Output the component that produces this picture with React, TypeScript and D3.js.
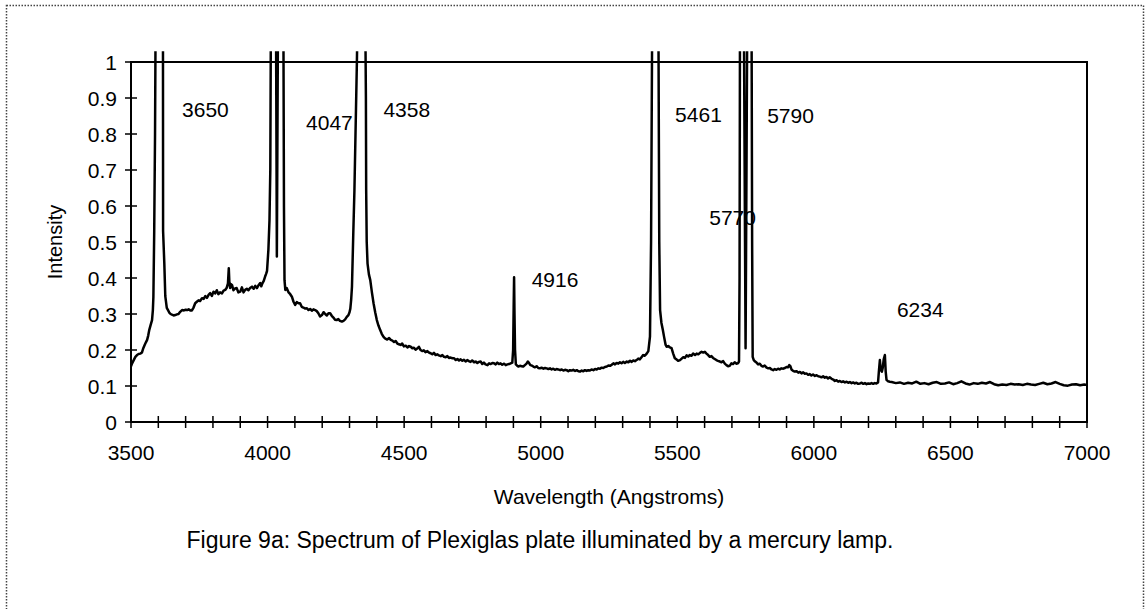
import React from 'react';
import * as d3 from 'd3';

// Spectrum: [wavelength (Å), intensity]
const spectrum: [number, number][] = [
  [3500, 0.155], [3504, 0.163], [3510, 0.172], [3516, 0.181], [3522, 0.186], [3528, 0.189], [3534, 0.19],
  [3540, 0.193], [3545, 0.205], [3550, 0.214], [3555, 0.222], [3559, 0.228], [3563, 0.24], [3567, 0.256],
  [3572, 0.27], [3577, 0.283], [3580, 0.31], [3582, 0.348], [3585, 0.53], [3588, 0.8], [3590, 1.1],
  [3617, 1.1], [3617.5, 0.53], [3622, 0.44], [3625.5, 0.35], [3631, 0.317], [3636, 0.31], [3640, 0.304],
  [3645, 0.3], [3650, 0.298], [3656, 0.296], [3662, 0.297], [3668, 0.299], [3674, 0.3], [3680, 0.306],
  [3687, 0.311], [3694, 0.31], [3700, 0.312], [3706, 0.311], [3711, 0.313], [3717, 0.31], [3723, 0.31],
  [3729, 0.318], [3735, 0.33], [3741, 0.334], [3747, 0.338], [3753, 0.336], [3760, 0.344], [3766, 0.342],
  [3772, 0.35], [3778, 0.345], [3784, 0.353], [3790, 0.358], [3796, 0.35], [3802, 0.362], [3808, 0.357],
  [3814, 0.366], [3820, 0.355], [3826, 0.36], [3833, 0.357], [3839, 0.365], [3845, 0.367], [3850, 0.372],
  [3855, 0.385], [3858, 0.427], [3860, 0.39], [3863, 0.372], [3866, 0.383], [3870, 0.38], [3875, 0.366],
  [3881, 0.371], [3887, 0.372], [3893, 0.36], [3900, 0.362], [3906, 0.374], [3912, 0.36], [3918, 0.367],
  [3924, 0.37], [3930, 0.366], [3936, 0.372], [3943, 0.376], [3949, 0.37], [3955, 0.378], [3961, 0.372],
  [3967, 0.38], [3973, 0.386], [3977, 0.377], [3981, 0.385], [3986, 0.392], [3991, 0.404], [3995, 0.412],
  [3998, 0.42], [4003, 0.478], [4007, 0.56], [4010, 0.7], [4012, 1.1],
  [4031, 1.1], [4034, 0.46], [4038, 1.1],
  [4058, 1.1], [4060, 0.6], [4062, 0.394], [4065, 0.367], [4070, 0.372], [4077, 0.36], [4083, 0.355],
  [4089, 0.348], [4095, 0.334], [4101, 0.325], [4107, 0.333], [4113, 0.33], [4119, 0.33], [4125, 0.32],
  [4131, 0.318], [4138, 0.315], [4144, 0.316], [4150, 0.311], [4156, 0.314], [4162, 0.309], [4168, 0.313],
  [4174, 0.311], [4180, 0.308], [4186, 0.302], [4192, 0.293], [4199, 0.297], [4205, 0.305], [4211, 0.3],
  [4217, 0.296], [4223, 0.302], [4229, 0.302], [4235, 0.295], [4241, 0.29], [4247, 0.284], [4253, 0.283],
  [4259, 0.286], [4265, 0.281], [4272, 0.279], [4278, 0.281], [4284, 0.285], [4290, 0.292], [4296, 0.297],
  [4300, 0.305], [4303, 0.315], [4306, 0.339], [4309, 0.376], [4314, 0.53], [4318, 0.644], [4327, 1.0],
  [4329, 1.1],
  [4358, 1.1], [4360, 0.9], [4361, 0.644], [4363, 0.5], [4366, 0.44], [4371, 0.41], [4376, 0.394],
  [4382, 0.36], [4388, 0.33], [4394, 0.305], [4400, 0.283], [4406, 0.268], [4412, 0.256], [4418, 0.245],
  [4424, 0.237], [4430, 0.232], [4438, 0.229], [4445, 0.233], [4451, 0.228], [4457, 0.226], [4463, 0.222],
  [4469, 0.225], [4475, 0.218], [4481, 0.216], [4487, 0.214], [4493, 0.218], [4499, 0.21], [4506, 0.212],
  [4512, 0.207], [4518, 0.211], [4524, 0.209], [4530, 0.205], [4536, 0.206], [4542, 0.201], [4548, 0.204],
  [4554, 0.209], [4560, 0.2], [4566, 0.197], [4572, 0.199], [4578, 0.194], [4585, 0.197], [4591, 0.193],
  [4597, 0.191], [4603, 0.188], [4609, 0.192], [4615, 0.186], [4621, 0.188], [4627, 0.185], [4634, 0.183],
  [4640, 0.186], [4646, 0.181], [4652, 0.18], [4658, 0.183], [4664, 0.178], [4670, 0.179], [4677, 0.177],
  [4683, 0.177], [4689, 0.172], [4695, 0.175], [4701, 0.171], [4707, 0.174], [4713, 0.17], [4719, 0.173],
  [4725, 0.168], [4731, 0.172], [4737, 0.169], [4743, 0.167], [4749, 0.171], [4756, 0.166], [4762, 0.168],
  [4768, 0.164], [4774, 0.167], [4780, 0.168], [4786, 0.161], [4792, 0.165], [4798, 0.16], [4805, 0.158],
  [4811, 0.163], [4817, 0.161], [4823, 0.164], [4829, 0.163], [4835, 0.16], [4841, 0.165], [4847, 0.161],
  [4853, 0.163], [4859, 0.159], [4866, 0.162], [4872, 0.158], [4878, 0.16], [4884, 0.161], [4890, 0.163],
  [4896, 0.165], [4899, 0.2], [4901, 0.32], [4902.5, 0.402], [4904, 0.3], [4906, 0.2], [4909, 0.16],
  [4913, 0.157], [4918, 0.154], [4924, 0.156], [4930, 0.155], [4936, 0.154], [4942, 0.158], [4948, 0.162],
  [4953, 0.168], [4958, 0.163], [4962, 0.158], [4967, 0.157], [4973, 0.154], [4979, 0.152], [4985, 0.155],
  [4991, 0.15], [4997, 0.149], [5003, 0.151], [5010, 0.148], [5016, 0.15], [5022, 0.149], [5028, 0.147],
  [5034, 0.149], [5040, 0.146], [5046, 0.148], [5052, 0.145], [5058, 0.147], [5064, 0.146], [5071, 0.144],
  [5077, 0.146], [5083, 0.143], [5089, 0.145], [5095, 0.144], [5101, 0.141], [5107, 0.144], [5113, 0.143],
  [5119, 0.145], [5126, 0.142], [5132, 0.144], [5138, 0.141], [5144, 0.14], [5150, 0.143], [5156, 0.141],
  [5162, 0.144], [5168, 0.142], [5174, 0.144], [5180, 0.143], [5186, 0.146], [5193, 0.144], [5199, 0.147],
  [5205, 0.146], [5211, 0.149], [5217, 0.148], [5223, 0.151], [5229, 0.15], [5235, 0.153], [5242, 0.154],
  [5248, 0.157], [5254, 0.156], [5260, 0.159], [5266, 0.163], [5272, 0.16], [5278, 0.164], [5284, 0.162],
  [5290, 0.166], [5296, 0.163], [5302, 0.167], [5308, 0.164], [5315, 0.168], [5321, 0.166], [5327, 0.17],
  [5333, 0.167], [5339, 0.171], [5345, 0.169], [5351, 0.172], [5357, 0.176], [5363, 0.174], [5369, 0.18],
  [5375, 0.186], [5381, 0.184], [5388, 0.19], [5394, 0.197], [5400, 0.237], [5404, 0.5], [5408, 1.1],
  [5431, 1.1], [5434, 0.5], [5437, 0.311], [5442, 0.275], [5447, 0.256], [5452, 0.235], [5457, 0.215],
  [5461, 0.209], [5467, 0.211], [5473, 0.207], [5479, 0.205], [5485, 0.19], [5491, 0.177], [5497, 0.174],
  [5503, 0.17], [5510, 0.172], [5516, 0.176], [5522, 0.18], [5528, 0.178], [5534, 0.185], [5540, 0.182],
  [5546, 0.186], [5552, 0.184], [5558, 0.19], [5565, 0.186], [5571, 0.19], [5577, 0.188], [5583, 0.192],
  [5589, 0.195], [5595, 0.193], [5601, 0.195], [5607, 0.19], [5613, 0.186], [5619, 0.181], [5625, 0.183],
  [5631, 0.178], [5637, 0.175], [5643, 0.172], [5649, 0.17], [5656, 0.168], [5662, 0.166], [5668, 0.169],
  [5674, 0.162], [5680, 0.158], [5686, 0.155], [5692, 0.156], [5698, 0.163], [5704, 0.161], [5710, 0.166],
  [5716, 0.162], [5722, 0.163], [5726, 0.168], [5728, 0.4], [5729.5, 1.1],
  [5744, 1.1], [5748, 0.5], [5750, 0.205], [5752, 0.5], [5756, 1.1],
  [5772, 1.1], [5774, 0.5], [5776, 0.181], [5780, 0.172], [5785, 0.168], [5790, 0.165], [5796, 0.16],
  [5802, 0.162], [5808, 0.156], [5814, 0.154], [5820, 0.157], [5827, 0.151], [5833, 0.149], [5839, 0.15],
  [5845, 0.146], [5851, 0.144], [5857, 0.147], [5863, 0.145], [5869, 0.148], [5875, 0.146], [5881, 0.149],
  [5888, 0.148], [5894, 0.15], [5900, 0.153], [5906, 0.152], [5910, 0.158], [5914, 0.155], [5918, 0.146],
  [5924, 0.142], [5930, 0.14], [5937, 0.141], [5943, 0.137], [5949, 0.139], [5955, 0.135], [5961, 0.138],
  [5967, 0.134], [5973, 0.135], [5979, 0.131], [5985, 0.133], [5991, 0.129], [5997, 0.132], [6004, 0.128],
  [6010, 0.13], [6016, 0.127], [6022, 0.126], [6028, 0.124], [6034, 0.127], [6040, 0.123], [6046, 0.125],
  [6052, 0.121], [6058, 0.124], [6065, 0.12], [6071, 0.118], [6077, 0.114], [6083, 0.116], [6089, 0.112],
  [6095, 0.114], [6101, 0.111], [6107, 0.113], [6114, 0.11], [6120, 0.112], [6126, 0.109], [6132, 0.111],
  [6138, 0.108], [6144, 0.11], [6150, 0.107], [6156, 0.109], [6162, 0.106], [6169, 0.107], [6175, 0.109],
  [6181, 0.106], [6187, 0.108], [6193, 0.105], [6199, 0.107], [6205, 0.106], [6211, 0.108], [6217, 0.106],
  [6223, 0.108], [6229, 0.107], [6235, 0.11], [6238, 0.14], [6241.7, 0.172], [6245, 0.145], [6249, 0.14],
  [6252, 0.15], [6256, 0.175], [6260, 0.186], [6263, 0.14], [6266, 0.117], [6272, 0.113], [6278, 0.112],
  [6285, 0.111], [6300, 0.108], [6315, 0.11], [6330, 0.106], [6345, 0.109], [6360, 0.107], [6375, 0.112],
  [6390, 0.106], [6405, 0.108], [6420, 0.105], [6435, 0.109], [6450, 0.111], [6465, 0.106], [6480, 0.107],
  [6495, 0.11], [6510, 0.105], [6525, 0.108], [6540, 0.113], [6555, 0.107], [6570, 0.104], [6585, 0.108],
  [6600, 0.106], [6615, 0.109], [6630, 0.107], [6645, 0.111], [6660, 0.105], [6675, 0.102], [6690, 0.104],
  [6705, 0.103], [6720, 0.106], [6735, 0.104], [6750, 0.105], [6765, 0.103], [6780, 0.106], [6795, 0.104],
  [6810, 0.103], [6825, 0.106], [6840, 0.109], [6855, 0.105], [6870, 0.107], [6885, 0.111], [6900, 0.106],
  [6915, 0.102], [6930, 0.101], [6945, 0.104], [6960, 0.105], [6975, 0.102], [6990, 0.104], [7000, 0.103],
];

const xMinorTicks = [3500, 3600, 3700, 3800, 3900, 4000, 4100, 4200, 4300, 4400, 4500, 4600, 4700, 4800,
  4900, 5000, 5100, 5200, 5300, 5400, 5500, 5600, 5700, 5800, 5900, 6000, 6100, 6200, 6300, 6400, 6500,
  6600, 6700, 6800, 6900, 7000];
const xLabelTicks = [3500, 4000, 4500, 5000, 5500, 6000, 6500, 7000];
const yTicks = [0, 0.1, 0.2, 0.3, 0.4, 0.5, 0.6, 0.7, 0.8, 0.9, 1];

const peakLabelText = ['3650', '4047', '4358', '4916', '5461', '5770', '5790', '6234'];
const peakLabelX = [3687, 4141, 4424, 4967, 5492, 5617, 5829, 6304];
const peakLabelY = [0.848, 0.811, 0.847, 0.376, 0.834, 0.547, 0.83, 0.292];

const xTitle = 'Wavelength (Angstroms)';
const yTitle = 'Intensity';
const caption = 'Figure 9a: Spectrum of Plexiglas plate illuminated by a mercury lamp.';

const W = 1146;
const H = 609;
const left = 131;
const right = 1087;
const top = 62;
const bottom = 422;
const font = "'Liberation Sans', Arial, Helvetica, sans-serif";

export default function App() {
  const x = d3.scaleLinear().domain([3500, 7000]).range([left, right]);
  const y = d3.scaleLinear().domain([0, 1]).range([bottom, top]);
  const line = d3
    .line<[number, number]>()
    .x((d) => x(d[0]))
    .y((d) => y(d[1]));
  const clipTop = y(1.03);

  return (
    <svg
      width={W}
      height={H}
      viewBox={`0 0 ${W} ${H}`}
      style={{ position: 'absolute', left: 0, top: 0, background: '#fff' }}
      fontFamily={font}
    >
      <rect x={0} y={0} width={W} height={H} fill="#fff" />
      <rect
        x={6.5}
        y={5.5}
        width={1137}
        height={800}
        fill="none"
        stroke="#444"
        strokeWidth={1.5}
        strokeDasharray="1.5,1.5"
      />
      <defs>
        <clipPath id="plotClip">
          <rect x={left} y={clipTop} width={right - left} height={bottom - clipTop} />
        </clipPath>
      </defs>

      {/* plot frame */}
      <rect x={left} y={top} width={right - left} height={bottom - top} fill="none" stroke="#000" strokeWidth={2} />

      {/* y ticks */}
      {yTicks.map((t) => (
        <g key={'y' + t}>
          <line x1={left - 6} x2={left + 6} y1={y(t)} y2={y(t)} stroke="#000" strokeWidth={1.5} />
          <text x={left - 14} y={y(t)} dy="0.36em" textAnchor="end" fontSize={21} fill="#000">
            {String(t)}
          </text>
        </g>
      ))}

      {/* x ticks */}
      {xMinorTicks.map((t) => (
        <line key={'xm' + t} x1={x(t)} x2={x(t)} y1={bottom - 6} y2={bottom + 6} stroke="#000" strokeWidth={1.5} />
      ))}
      {xLabelTicks.map((t) => (
        <text key={'xl' + t} x={x(t)} y={bottom + 38} textAnchor="middle" fontSize={21} fill="#000">
          {String(t)}
        </text>
      ))}

      {/* spectrum */}
      <path d={line(spectrum) || ''} fill="none" stroke="#000" strokeWidth={2.5} strokeLinejoin="round" clipPath="url(#plotClip)" />

      {/* peak labels */}
      {peakLabelText.map((s, i) => (
        <text key={s} x={x(peakLabelX[i])} y={y(peakLabelY[i])} fontSize={21} fill="#000">
          {s}
        </text>
      ))}

      {/* axis titles */}
      <text transform={`translate(62, ${(top + bottom) / 2}) rotate(-90)`} textAnchor="middle" fontSize={20} fill="#000">
        {yTitle}
      </text>
      <text x={(left + right) / 2} y={504} textAnchor="middle" fontSize={21} fill="#000">
        {xTitle}
      </text>
      <text x={540} y={548} textAnchor="middle" fontSize={23} fill="#000">
        {caption}
      </text>
    </svg>
  );
}
